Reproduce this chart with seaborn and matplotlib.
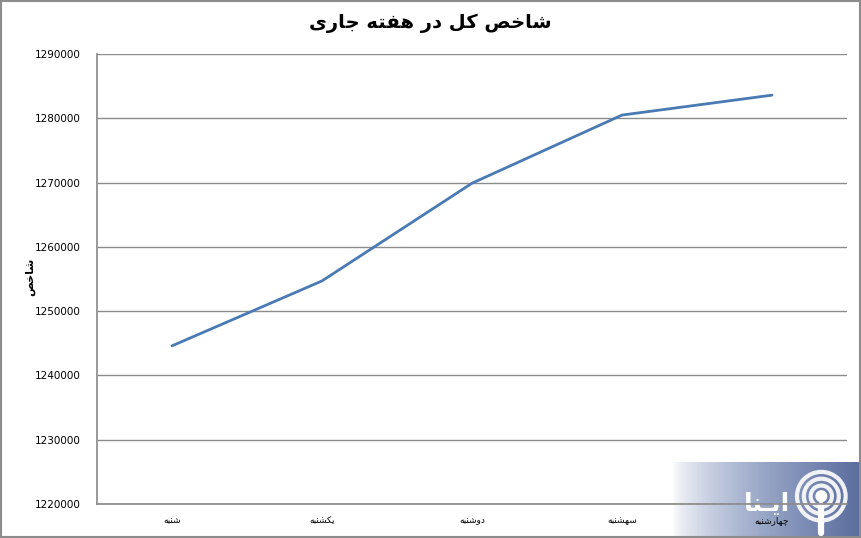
import matplotlib
matplotlib.use("Agg")
import matplotlib.pyplot as plt
import matplotlib.patches as mpatches
import numpy as np
import pandas as pd
import seaborn as sns

# data
days = ["شنبه", "یکشنبه", "دوشنبه", "سهشنبه", "چهارشنبه"]
index_values = [1244600, 1254700, 1269900, 1280500, 1283600]
y_ticks = [1220000, 1230000, 1240000, 1250000, 1260000, 1270000, 1280000, 1290000]

title_text = "شاخص کل در هفته جاری"
ylabel_text = "شاخص"
logo_text = "ایـنا"

# minimal Arabic/Persian shaping (matplotlib has no complex text layout)
# letter: (isolated, final, initial, medial); two-form letters do not join to the next
FORMS = {
    "ا": ("\uFE8D", "\uFE8E"), "د": ("\uFEA9", "\uFEAA"), "ر": ("\uFEAD", "\uFEAE"),
    "و": ("\uFEED", "\uFEEE"),
    "ب": ("\uFE8F", "\uFE90", "\uFE91", "\uFE92"), "ت": ("\uFE95", "\uFE96", "\uFE97", "\uFE98"),
    "ج": ("\uFE9D", "\uFE9E", "\uFE9F", "\uFEA0"), "خ": ("\uFEA5", "\uFEA6", "\uFEA7", "\uFEA8"),
    "س": ("\uFEB1", "\uFEB2", "\uFEB3", "\uFEB4"), "ش": ("\uFEB5", "\uFEB6", "\uFEB7", "\uFEB8"),
    "ص": ("\uFEB9", "\uFEBA", "\uFEBB", "\uFEBC"), "ف": ("\uFED1", "\uFED2", "\uFED3", "\uFED4"),
    "ل": ("\uFEDD", "\uFEDE", "\uFEDF", "\uFEE0"), "ن": ("\uFEE5", "\uFEE6", "\uFEE7", "\uFEE8"),
    "ه": ("\uFEE9", "\uFEEA", "\uFEEB", "\uFEEC"), "ک": ("\uFB8E", "\uFB8F", "\uFB90", "\uFB91"),
    "ی": ("\uFBFC", "\uFBFD", "\uFBFE", "\uFBFF"), "چ": ("\uFB7A", "\uFB7B", "\uFB7C", "\uFB7D"),
    "ـ": ("ـ", "ـ", "ـ", "ـ"),
}


def shape(text):
    out = []
    for i, ch in enumerate(text):
        if ch not in FORMS:
            out.append(ch)
            continue
        prev = text[i - 1] if i > 0 else ""
        nxt = text[i + 1] if i + 1 < len(text) else ""
        join_prev = prev in FORMS and len(FORMS[prev]) == 4
        join_next = nxt in FORMS and len(FORMS[ch]) == 4
        f = FORMS[ch]
        if join_prev and join_next:
            out.append(f[3])
        elif join_prev:
            out.append(f[1])
        elif join_next:
            out.append(f[2])
        else:
            out.append(f[0])
    return "".join(out)[::-1]


df = pd.DataFrame({"day": [shape(d) for d in days], "value": index_values})

sns.set_theme(style="white")
plt.rcParams["font.family"] = ["DejaVu Sans"]
plt.rcParams["text.color"] = "black"
plt.rcParams["xtick.color"] = "black"
plt.rcParams["ytick.color"] = "black"

fig = plt.figure(figsize=(8.61, 5.38), dpi=100)

# watermark: gradient box with logo, sits under the chart
wm = fig.add_axes([672 / 861, 0, 189 / 861, 76 / 538], zorder=0)
grad = np.linspace(0, 1, 256)[None, :] ** 0.7
cmap = matplotlib.colors.LinearSegmentedColormap.from_list("wm", ["#ffffff", "#a9b5d1", "#5b6d9e"])
wm.imshow(grad, aspect="auto", cmap=cmap, extent=[0, 1, 0, 1])
wm.set_xlim(0, 1)
wm.set_ylim(0, 1)
wm.axis("off")
wm.text(0.50, 0.45, shape(logo_text), color="white", fontsize=18, fontweight="bold",
        ha="center", va="center")
cx, cy = 0.79, 0.55
k = 76 / 189
for r in [0.14, 0.23, 0.32]:
    wm.add_patch(mpatches.Ellipse((cx, cy), r * 2 * k, r * 2, fill=False,
                                  edgecolor="white", linewidth=3, alpha=0.9))
wm.add_patch(mpatches.Ellipse((cx, cy), 0.07 * 2 * k, 0.14, color="white"))
wm.plot([cx, cx], [cy - 0.12, cy - 0.48], color="white", linewidth=4.5, solid_capstyle="round")

ax = fig.add_axes([97 / 861, 1 - 504 / 538, 750 / 861, 450 / 538], zorder=1)
ax.patch.set_alpha(0)

sns.lineplot(data=df, x="day", y="value", ax=ax, color="#4a7ab4", linewidth=2.0, sort=False)

ax.set_xlim(-0.5, len(days) - 0.5)
ax.set_ylim(y_ticks[0], y_ticks[-1])
ax.set_yticks(y_ticks)
ax.set_yticklabels([str(v) for v in y_ticks], fontsize=7.5)
ax.tick_params(axis="x", labelsize=6.5, length=0, pad=9)
ax.tick_params(axis="y", length=0, pad=12)
ax.yaxis.grid(True, color="#8c8c8c", linewidth=1.0)
ax.set_axisbelow(True)
for side in ["top", "right"]:
    ax.spines[side].set_visible(False)
ax.spines["left"].set_color("#8c8c8c")
ax.spines["bottom"].set_color("#8c8c8c")
ax.set_xlabel("")
ax.set_ylabel("")

fig.text(430 / 861, 1 - 23 / 538, shape(title_text), ha="center", va="center",
         fontsize=14, fontweight="bold")
fig.text(30 / 861, 1 - 277 / 538, shape(ylabel_text), ha="center", va="center",
         rotation=90, fontsize=8, fontweight="bold")

# outer chart border
fig.patches.append(mpatches.Rectangle((0.001, 0.001), 0.998, 0.997, transform=fig.transFigure,
                                      fill=False, edgecolor="#8c8c8c", linewidth=1.5))

fig.savefig("out.png", dpi=100)
